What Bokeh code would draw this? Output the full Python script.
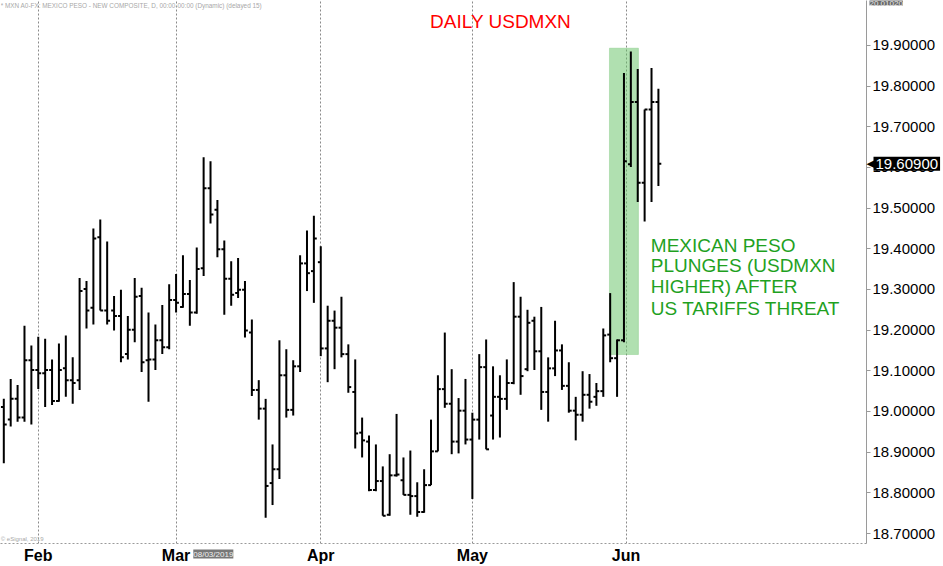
import pandas as pd
from bokeh.plotting import figure
from bokeh.models import (ColumnDataSource, FixedTicker, Range1d, Label,
                          BoxAnnotation, NumeralTickFormatter)
from bokeh.embed import file_html
from bokeh.resources import INLINE

# ---------------- data ----------------
dates = pd.bdate_range("2019-01-25", "2019-06-07")   # 96 daily bars

open_ = [19.011, 18.980, 19.031, 18.985, 19.126, 19.102, 19.094, 19.102, 19.026, 19.106,
         19.077, 19.077, 19.301, 19.255, 19.428, 19.248, 19.248, 19.235, 19.141, 19.201,
         19.284, 19.126, 19.128, 19.175, 19.158, 19.274, 19.257, 19.289, 19.243, 19.352,
         19.549, 19.496, 19.399, 19.326, 19.291, 19.299, 19.194, 19.053, 19.007, 18.824,
         18.858, 19.089, 19.004, 19.111, 19.364, 19.345, 19.367, 19.155, 19.223, 19.206,
         19.141, 19.048, 18.948, 18.926, 18.807, 18.829, 18.746, 18.843, 18.831, 18.795,
         18.792, 18.753, 18.819, 18.902, 19.055, 19.019, 18.926, 19.002, 18.931, 18.980,
         19.109, 18.990, 19.036, 19.031, 19.070, 19.233, 19.104, 19.223, 19.148, 19.048,
         19.106, 19.150, 19.063, 19.002, 18.992, 19.041, 19.036, 19.050, 19.189, 19.131,
         19.175, 19.608, 19.761, 19.562, 19.742, 19.761]

high = [19.031, 19.080, 19.065, 19.211, 19.162, 19.184, 19.179, 19.128, 19.167, 19.187,
        19.133, 19.328, 19.321, 19.450, 19.472, 19.418, 19.284, 19.299, 19.235, 19.328,
        19.304, 19.243, 19.214, 19.262, 19.313, 19.338, 19.384, 19.323, 19.403, 19.625,
        19.615, 19.520, 19.420, 19.369, 19.377, 19.321, 19.226, 19.077, 19.031, 18.919,
        19.175, 19.153, 19.126, 19.384, 19.445, 19.481, 19.406, 19.260, 19.248, 19.282,
        19.165, 19.128, 18.985, 18.941, 18.919, 18.865, 18.895, 18.994, 18.887, 18.904,
        18.826, 18.858, 18.980, 19.089, 19.194, 19.104, 19.033, 19.080, 18.997, 19.141,
        19.177, 19.111, 19.089, 19.128, 19.318, 19.282, 19.250, 19.233, 19.257, 19.133,
        19.223, 19.165, 19.121, 19.036, 19.099, 19.092, 19.070, 19.204, 19.291, 19.177,
        19.832, 19.885, 19.842, 19.742, 19.844, 19.793]

low = [18.873, 18.963, 18.975, 18.975, 18.968, 19.055, 19.011, 19.016, 19.024, 19.036,
       19.019, 19.053, 19.204, 19.214, 19.248, 19.214, 19.199, 19.121, 19.128, 19.170,
       19.097, 19.024, 19.102, 19.141, 19.153, 19.243, 19.255, 19.211, 19.240, 19.333,
       19.462, 19.379, 19.238, 19.260, 19.279, 19.182, 19.038, 18.980, 18.739, 18.770,
       18.834, 18.985, 18.990, 19.097, 19.296, 19.267, 19.136, 19.072, 19.104, 19.133,
       19.046, 18.909, 18.887, 18.804, 18.804, 18.744, 18.744, 18.840, 18.795, 18.746,
       18.741, 18.751, 18.819, 18.902, 19.009, 18.895, 18.897, 18.919, 18.785, 18.931,
       18.907, 18.931, 18.936, 19.004, 19.067, 19.041, 19.099, 19.102, 19.004, 18.975,
       19.087, 19.053, 18.997, 18.929, 18.975, 19.007, 19.014, 19.036, 19.121, 19.036,
       19.170, 19.601, 19.515, 19.467, 19.515, 19.554]

close = [18.968, 19.031, 18.985, 19.126, 19.102, 19.094, 19.102, 19.026, 19.102, 19.077,
         19.070, 19.296, 19.248, 19.425, 19.248, 19.223, 19.235, 19.133, 19.201, 19.282,
         19.121, 19.128, 19.175, 19.158, 19.274, 19.267, 19.289, 19.243, 19.350, 19.549,
         19.484, 19.399, 19.326, 19.287, 19.299, 19.199, 19.053, 19.007, 18.817, 18.858,
         19.089, 19.004, 19.111, 19.364, 19.340, 19.425, 19.155, 19.223, 19.206, 19.141,
         19.060, 18.946, 18.929, 18.807, 18.829, 18.744, 18.843, 18.845, 18.795, 18.792,
         18.753, 18.819, 18.902, 19.055, 19.019, 18.926, 19.002, 18.931, 18.980, 19.109,
         18.907, 19.036, 19.031, 19.070, 19.233, 19.087, 19.218, 19.148, 19.048, 19.106,
         19.150, 19.063, 19.002, 18.992, 19.041, 19.024, 19.050, 19.187, 19.131, 19.175,
         19.615, 19.761, 19.562, 19.742, 19.761, 19.609]

month_labels = ["Feb", "Mar", "Apr", "May", "Jun"]
month_pos = [5, 25, 46, 68, 90.3]
y_ticks = [18.7, 18.8, 18.9, 19.0, 19.1, 19.2, 19.3, 19.4, 19.5, 19.6, 19.7, 19.8, 19.9]
last_price = close[-1]
top_price = 20.0102

title_text = "DAILY USDMXN"
note_lines = ["MEXICAN PESO", "PLUNGES (USDMXN", "HIGHER) AFTER", "US TARIFFS THREAT"]
header_text = "* MXN A0-FX: MEXICO PESO - NEW COMPOSITE, D, 00:00-00:00 (Dynamic) (delayed 15)"

# ---------------- figure ----------------
FONT = "Liberation Sans"
TICK = 0.42
x = list(range(len(dates)))
src = ColumnDataSource(dict(
    x=x, xl=[i - TICK for i in x], xr=[i + TICK for i in x],
    open=open_, high=high, low=low, close=close))

X0, X1 = -0.48, 125.2
Y0, Y1 = 18.6755, top_price

p = figure(frame_width=866, frame_height=543, output_backend="svg", toolbar_location=None,
           x_range=Range1d(X0, X1), y_range=Range1d(Y0, Y1),
           y_axis_location="right",
           min_border_left=0, min_border_top=0, min_border_right=0, min_border_bottom=0)
p.outline_line_color = None
p.background_fill_color = "white"

# x axis / month grid
p.xaxis.ticker = FixedTicker(ticks=month_pos)
p.xaxis.major_label_overrides = {pos: lab for pos, lab in zip(month_pos, month_labels)}
p.xaxis.major_label_text_font = FONT
p.xaxis.major_label_text_font_style = "bold"
p.xaxis.major_label_text_font_size = "16px"
p.xaxis.major_label_text_color = "black"
p.xaxis.major_label_standoff = 3
p.xaxis.major_tick_out = 0
p.xaxis.major_tick_in = 0
p.xaxis.axis_label_standoff = 0
p.xaxis.major_tick_line_color = None
p.xaxis.minor_tick_line_color = None
p.xaxis.axis_line_color = "#9a9a9a"
p.xaxis.axis_line_dash = "2 2"

p.xgrid.ticker = FixedTicker(ticks=month_pos)
p.xgrid.grid_line_color = "#8a8a8a"
p.xgrid.grid_line_dash = "2 2"
p.ygrid.visible = False

# y axis (right)
p.yaxis.ticker = FixedTicker(ticks=y_ticks)
p.yaxis.formatter = NumeralTickFormatter(format="0.00000")
p.yaxis.major_label_text_font = FONT
p.yaxis.major_label_text_font_size = "15px"
p.yaxis.major_label_text_color = "black"
p.yaxis.major_label_standoff = 2
p.yaxis.axis_label_standoff = 0
p.yaxis.axis_line_color = "#9a9a9a"
p.yaxis.major_tick_line_color = "#9a9a9a"
p.yaxis.major_tick_in = 0
p.yaxis.major_tick_out = 4
p.yaxis.minor_tick_line_color = None

# highlight box behind the spike
p.add_layout(BoxAnnotation(left=87.9, right=92.1, top=19.893, bottom=19.140,
                           fill_color="#61c161", fill_alpha=0.5,
                           line_color="#5cb85c", line_width=1, level="underlay"))

# OHLC bars
p.segment(x0="x", y0="low", x1="x", y1="high", source=src, line_color="black", line_width=2)
p.segment(x0="xl", y0="open", x1="x", y1="open", source=src, line_color="black", line_width=2)
p.segment(x0="x", y0="close", x1="xr", y1="close", source=src, line_color="black", line_width=2)

# texts
p.add_layout(Label(x=72.1, y=19.958, text=title_text, text_color="#ff0000",
                   text_font=FONT, text_font_size="19px",
                   text_align="center", text_baseline="middle"))
p.add_layout(Label(x=-0.45, y=19.997, text=header_text, text_color="#a8a8a8",
                   text_font=FONT, text_font_size="6.4px", text_baseline="middle"))
p.add_layout(Label(x=-0.45, y=18.686, text="\u00a9 eSignal, 2019", text_color="#a8a8a8",
                   text_font=FONT, text_font_size="6px", text_baseline="middle"))

note_y = [19.408, 19.358, 19.307, 19.254]
for ln, yy in zip(note_lines, note_y):
    p.add_layout(Label(x=93.9, y=yy, text=ln, text_color="#1fa11f",
                       text_font=FONT, text_font_size="19px", text_baseline="middle"))

# last price tag on the axis (placed in a side panel so it is not clipped to the frame)
p.add_layout(Label(x=X1, y=last_price, x_offset=0, text="\u25c0",
                   text_color="black", text_font="DejaVu Sans", text_font_size="11px",
                   text_baseline="middle"), "right")
p.add_layout(Label(x=X1, y=last_price, x_offset=7, text=f"{last_price:.5f}",
                   text_color="white", background_fill_color="black", padding=2,
                   text_font=FONT, text_font_size="15px", text_baseline="middle"), "right")
# top of scale tag
p.add_layout(Label(x=X1, y=Y1, x_offset=3, text=f"{top_price:.5f}",
                   text_color="#e8e8e8", background_fill_color="#6a6a6a",
                   text_font=FONT, text_font_size="8px", text_baseline="top"), "right")
# cursor date tag near the x axis
p.add_layout(Label(x=27.5, y=Y0, y_offset=-6, text="08/03/2019",
                   text_color="#f0f0f0", background_fill_color="#777777",
                   text_font=FONT, text_font_size="8px", text_baseline="top"), "below")

open("out.html", "w").write(file_html(p, INLINE))
